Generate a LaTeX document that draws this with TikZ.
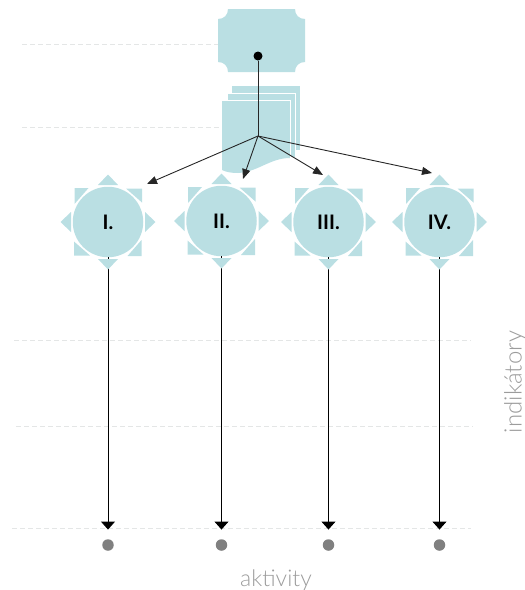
\documentclass[tikz,border=0pt]{standalone}
\usepackage{fontspec}
\setmainfont{Lato}
\newfontfamily\lightfont{Lato Light}
\usepackage{xcolor}
\usetikzlibrary{arrows.meta}
\definecolor{paleteal}{HTML}{BADFE3}
\definecolor{dashgray}{HTML}{E4E6E6}
\definecolor{dotgray}{HTML}{808080}
\definecolor{axisgray}{HTML}{9C9C9C}
\tikzset{
    guide/.style={dash pattern=on 5pt off 3pt, draw=dashgray, line width=0.8pt},
    edgeline/.style={draw=white, line width=1pt},
    ray/.style={fill=paleteal, draw=none},
    sun/.style={circle, fill=paleteal, inner sep=0pt, minimum size=70.5pt, font=\bfseries\fontsize{20}{20}\selectfont},
    spread/.style={-{Triangle[width=8pt,length=10pt]}, line width=0.9pt, draw=black!85},
    flow/.style={-{Triangle[width=14pt,length=8pt]}, line width=1pt, shorten >=9.5pt},
    bullet/.style={circle, fill=dotgray, inner sep=0pt, minimum size=11.5pt},
    axislabel/.style={text=axisgray, font=\lightfont\fontsize{#1}{#1}\selectfont}
}
\begin{document}
\begin{tikzpicture}[x=1pt,y=-1pt]
    \useasboundingbox (0,0) rectangle (525,590);

    % guide lines
    \draw[guide] (22,44) -- (218,44);
    \draw[guide] (22,127) -- (222,127);
    \draw[guide] (14,340) -- (471,340);
    \draw[guide] (16,426) -- (473,426);
    \draw[guide] (12,528) -- (471,528);

    % plaque and page stack
    \fill[paleteal] (228,9) -- (295,9) .. controls (295,15) and (299,19) .. (305,19)
        -- (305,62) .. controls (299,62) and (295,66) .. (295,72)
        -- (228,72) .. controls (228,66) and (224,62) .. (218,62)
        -- (218,19) .. controls (224,19) and (228,15) .. (228,9) -- cycle;
    \fill[paleteal] (232,85.5) rectangle (300,150);
    \fill[paleteal] (227.5,93) rectangle (295,157);
    \draw[edgeline] (227,93) -- (295.5,93) -- (295.5,157);
    \fill[paleteal] (222,100) -- (290,100) -- (290,158)
        .. controls (270,158) and (258,172) .. (238,173)
        .. controls (231,173) and (226,172) .. (222,170) -- cycle;
    \draw[edgeline] (222,100) -- (290,100) -- (290,158);

    % suns with their rays, bullets and arrows
    \foreach \name/\cx/\cy/\lab in {one/108/222/I., two/221.5/221/II., three/328.5/222/III., four/439.5/222/IV.} {
        \node[sun] (sun\name) at (\cx,\cy) {\lab};
        \node[bullet] (dot\name) at (\cx,545) {};
        \draw[flow] (sun\name) -- (dot\name);
        \foreach \rot in {0,90,180,270} {
            \fill[ray, rotate around={\rot:(\cx,\cy)}] (\cx+37,\cy-10) -- (\cx+47.5,\cy) -- (\cx+37,\cy+10) -- cycle;
            \fill[ray, rotate around={\rot:(\cx,\cy)}] (\cx-33.5,\cy-34) -- (\cx-19.5,\cy-34) -- (\cx-33.5,\cy-18) -- cycle;
        }
    }

    % spreading from the plaque
    \node[circle, fill=black, inner sep=0pt, minimum size=9pt] (start) at (258,56) {};
    \coordinate (hub) at (258,136);
    \coordinate (tipone) at (147,184);
    \coordinate (tiptwo) at (243,179);
    \coordinate (tipthree) at (323,175);
    \coordinate (tipfour) at (432,173);
    \draw[line width=0.9pt, draw=black!85] (start) -- (hub);
    \draw[spread] (hub) -- (tipone);
    \draw[spread] (hub) -- (tiptwo);
    \draw[spread] (hub) -- (tipthree);
    \draw[spread] (hub) -- (tipfour);

    % axis labels
    \node[axislabel=23] (aktivity) at (276,580) {aktivity};
    \node[axislabel=24, rotate=90] (indikatory) at (515,382) {indikátory};
\end{tikzpicture}
\end{document}
